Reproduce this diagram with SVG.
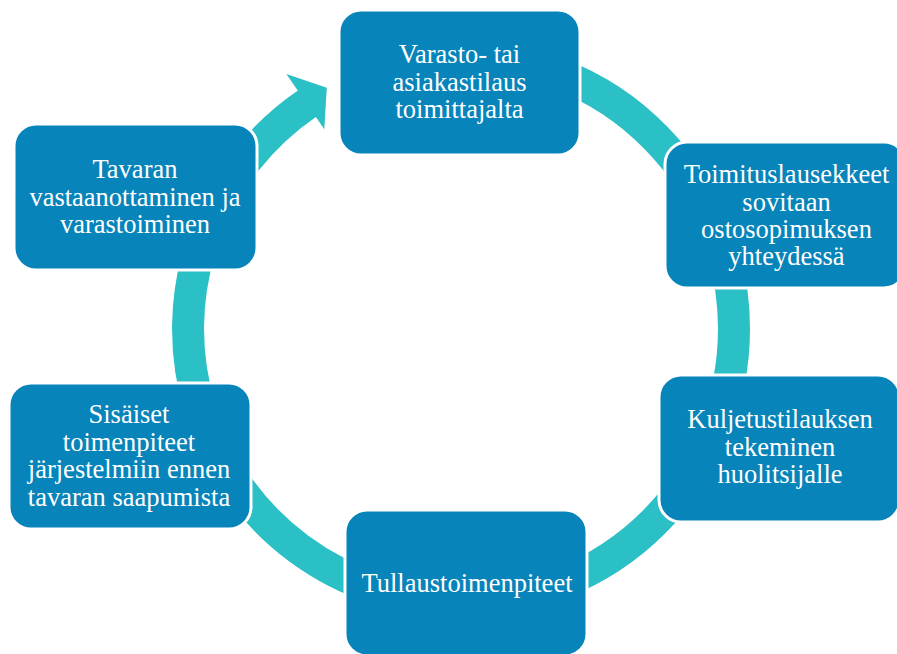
<svg xmlns="http://www.w3.org/2000/svg" width="897" height="654" viewBox="0 0 897 654">
<style>
.box{fill:#0784BA;stroke:#ffffff;stroke-width:3}
.lbl{font-family:"Liberation Serif","Times New Roman",serif;font-size:26.5px;fill:#ffffff;text-anchor:middle}
.ring{fill:none;stroke:#2BBFC6;stroke-width:32}
.head{fill:#2BBFC6}
</style>
<rect width="897" height="654" fill="#ffffff"/>
<g id="connectors">
<path class="ring" d="M 437.2 57.0 A 273 273 0 0 1 734 329 A 273 273 0 0 1 461 602 A 273 273 0 0 1 307.6 103.2"/>
<polygon class="head" points="286.4,74.0 326.8,87.8 324.3,129.3"/>
</g>
<g id="n1">
<rect class="box" x="339" y="10" width="241" height="145" rx="22"/>
<text class="lbl" x="459.5" y="63">Varasto- tai</text>
<text class="lbl" x="459.5" y="90.7">asiakastilaus</text>
<text class="lbl" x="459.5" y="118.3">toimittajalta</text>
</g>
<g id="n2">
<rect class="box" x="665" y="142" width="241" height="146" rx="22"/>
<text class="lbl" x="786.5" y="183.3">Toimituslausekkeet</text>
<text class="lbl" x="786.5" y="211">sovitaan</text>
<text class="lbl" x="786.5" y="238.3">ostosopimuksen</text>
<text class="lbl" x="786.5" y="265">yhteydessä</text>
</g>
<g id="n3">
<rect class="box" x="659" y="375" width="241" height="147" rx="22"/>
<text class="lbl" x="780" y="428.3">Kuljetustilauksen</text>
<text class="lbl" x="780" y="456">tekeminen</text>
<text class="lbl" x="780" y="483.3">huolitsijalle</text>
</g>
<g id="n4">
<rect class="box" x="345" y="510" width="242" height="146" rx="22"/>
<text class="lbl" x="467" y="591.7">Tullaustoimenpiteet</text>
</g>
<g id="n5">
<rect class="box" x="9" y="383" width="242" height="146" rx="22"/>
<text class="lbl" x="129" y="423.3">Sisäiset</text>
<text class="lbl" x="129" y="451">toimenpiteet</text>
<text class="lbl" x="129" y="478.3">järjestelmiin ennen</text>
<text class="lbl" x="129" y="506">tavaran saapumista</text>
</g>
<g id="n6">
<rect class="box" x="14" y="124" width="243" height="146" rx="22"/>
<text class="lbl" x="135" y="178.3">Tavaran</text>
<text class="lbl" x="135" y="206">vastaanottaminen ja</text>
<text class="lbl" x="135" y="233.3">varastoiminen</text>
</g>
</svg>
